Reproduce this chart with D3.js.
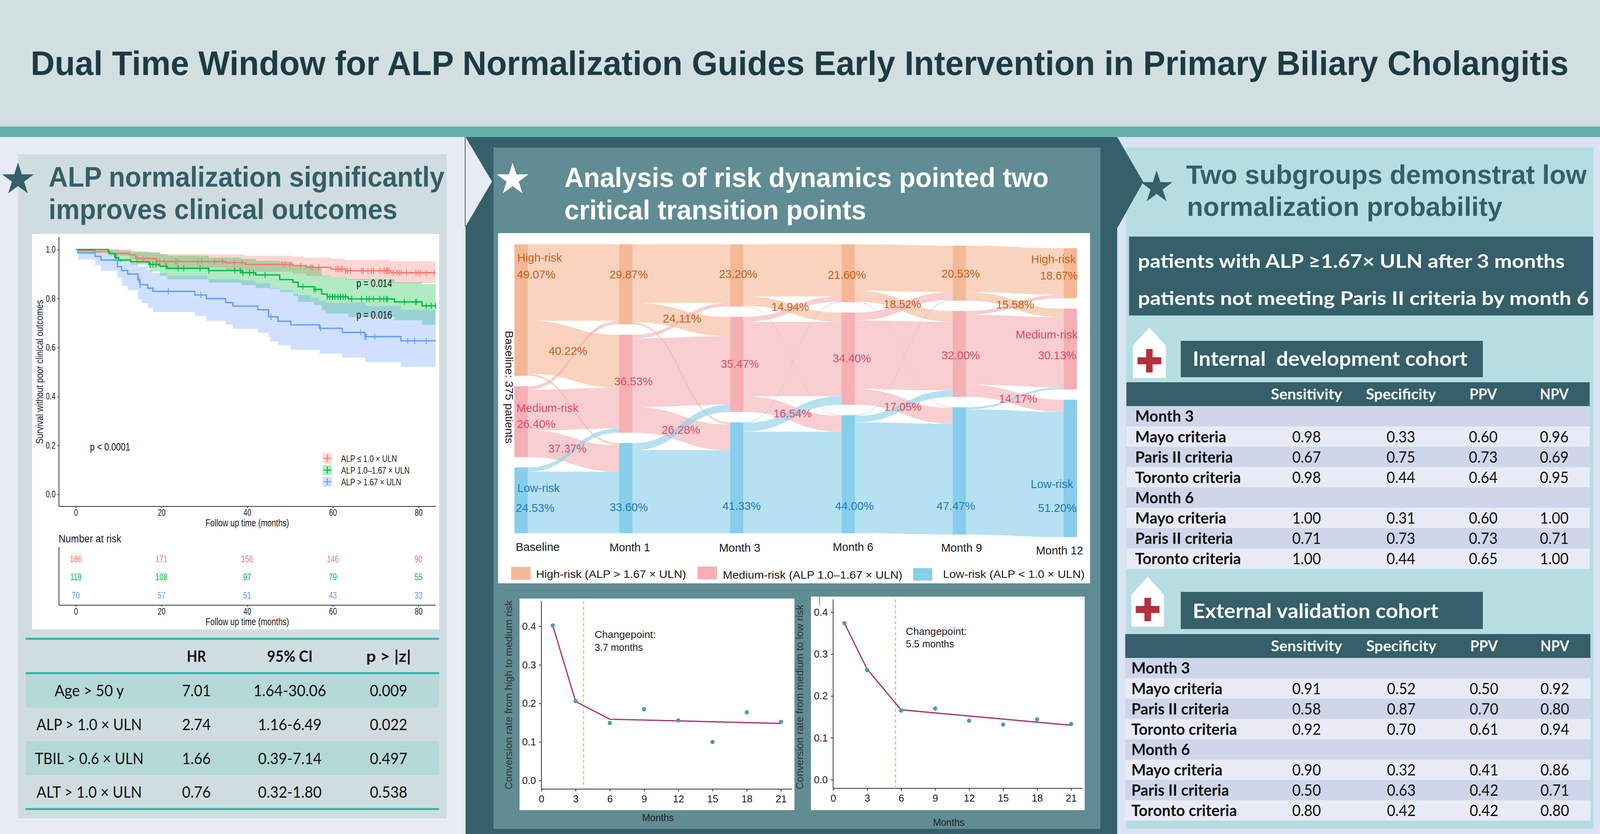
<!DOCTYPE html>
<html><head><meta charset="utf-8">
<script src="https://cdn.jsdelivr.net/npm/d3@7"></script>
<style>html,body{margin:0;padding:0;width:100%;height:100%;overflow:hidden;background:#e6ebf5}svg{display:block;width:100vw;height:100vh}</style>
</head><body><svg id="poster" viewBox="0 0 4179 2136" preserveAspectRatio="none"></svg>
<script>
// ---------- KM data ----------
const kmGroups=['ALP ≤ 1.0 × ULN','ALP 1.0–1.67 × ULN','ALP > 1.67 × ULN'];
const kmLowCurve=[[0,1],[.5,.995],[4.5,.991],[7.6,.984],[12.5,.978],[14,.963],[18.8,.951],[35,.946],[39.6,.939],[50.7,.934],[53.8,.927],[59.6,.920],[63,.913],[73.5,.905]];
const kmLowUpper=[[0,1],[13.1,.996],[13.7,.991],[16.8,.989],[19.6,.982],[30.7,.980],[39.3,.975],[50.4,.971],[53.4,.967],[59.6,.962],[63,.957],[73.5,.952]];
const kmLowLower=[[0,1],[.5,.986],[4.5,.982],[7.6,.975],[12.5,.959],[14,.943],[18.8,.932],[19.6,.926],[35,.916],[39.6,.909],[50.7,.901],[53.8,.891],[59.6,.886],[63,.876],[73.5,.863]];
const kmLowCensor=[14.3,15.7,19,19.6,20.7,23.3,23.7,28.5,29.4,32.4,34.3,37,38.8,48.2,48.8,50,52.5,54.9,55.3,56.7,60.7,61.1,61.4,61.9,62.2,63,63.4,64.1,66.7,67.1,68.2,69,69.5,71,72,72.5,72.8,73.1,74.1,75,75.5,75.9,77.2,79.4,79.9,80.4,81.8,83.6];
const kmMidCurve=[[0,1],[7.6,.991],[7.9,.984],[9.1,.967],[10,.957],[12.8,.950],[17.1,.939],[19.6,.932],[21.4,.923],[31,.914],[38.7,.905],[42,.896],[47.6,.877],[50.7,.866],[51.9,.848],[55.6,.837],[57.4,.818],[58.7,.807],[63.6,.798],[74.4,.786],[80.8,.770]];
const kmMidUpper=[[0,1],[10,.996],[12.8,.991],[17.1,.988],[19.6,.980],[21.4,.975],[31,.967],[38.7,.962],[42,.954],[47.6,.950],[50.7,.935],[55.6,.924],[57.4,.893],[59.6,.887],[63.3,.879],[74.4,.866],[80.8,.858]];
const kmMidLower=[[0,1],[7.6,.988],[9.1,.962],[10,.948],[12.8,.938],[17.1,.911],[19.6,.893],[21.4,.878],[31,.865],[38.7,.854],[42,.842],[45.4,.839],[47.6,.826],[50.7,.810],[51.9,.786],[55.6,.773],[57.4,.752],[58.4,.738],[63.6,.724],[74.4,.711],[80.8,.693]];
const kmMidCensor=[9.4,17.4,18,18.7,21.1,23.9,25.2,29,31.1,37.1,38.4,39,40.6,41.5,44.2,53,55.6,56,58.7,59.3,59.9,60.5,61.2,61.8,62.4,63,64.4,66.7,67.9,68.5,69.5,71,71.9,72.5,72.8,76.7,79.3,79.6,81.8,83,84];
const kmHighCurve=[[0,1],[.5,.986],[4.5,.972],[5.9,.957],[9.7,.930],[10.7,.914],[12.1,.900],[14.5,.877],[15,.856],[16.8,.842],[18,.829],[27.8,.814],[30.5,.799],[35,.783],[36.7,.769],[42.5,.754],[45,.725],[47.2,.707],[50.2,.692],[56.9,.678],[62.2,.661],[67.5,.644],[75.9,.627]];
const kmHighUpper=[[0,1],[4.5,.994],[5.9,.983],[9.7,.962],[10.7,.948],[12.1,.943],[14.5,.930],[16.8,.914],[18,.903],[21.4,.893],[30.7,.879],[38.7,.874],[42,.863],[45.4,.842],[47.6,.834],[50.7,.818],[51.9,.813],[55,.802],[56.8,.791],[58.4,.783],[67.6,.770],[75.9,.754]];
const kmHighLower=[[0,1],[.5,.959],[4.5,.936],[5.9,.913],[9.7,.885],[10.7,.851],[12.1,.834],[14.5,.797],[15.3,.781],[16.8,.762],[18,.745],[27.8,.728],[30.5,.709],[35,.693],[36.7,.676],[42.5,.659],[45,.641],[45.4,.625],[47.2,.608],[50.2,.590],[56.9,.574],[62.2,.559],[67.5,.540],[75.9,.521]];
const kmHighCensor=[14.7,15,21.6,29.2,45.6,57.1,66.5,67.5,67.8,69.8,77.5,79.1,81.8];
const kmTicksX=[0,20,40,60,80];
const kmTicksY=[0,.2,.4,.6,.8,1];
const riskLow=[186,171,156,146,90];
const riskMid=[119,108,97,79,55];
const riskHigh=[70,57,51,43,33];
// ---------- Cox table ----------
const coxHeader=['HR','95% CI','p > |z|'];
const coxNames=['Age > 50 y','ALP > 1.0 × ULN','TBIL > 0.6 × ULN','ALT > 1.0 × ULN'];
const coxHR=['7.01','2.74','1.66','0.76'];
const coxCI=['1.64-30.06','1.16-6.49','0.39-7.14','0.32-1.80'];
const coxP=['0.009','0.022','0.497','0.538'];
// ---------- Sankey (patients) ----------
const sankeyCols=['Baseline','Month 1','Month 3','Month 6','Month 9','Month 12'];
const sankeyLevels=['High','Medium','Low'];
const sankeyFlows=[
 [[107,74,3],[5,57,37],[0,6,86]],
 [[82,27,3],[5,96,36],[0,10,116]],
 [[73,13,1],[7,104,22],[1,12,142]],
 [[65,15,1],[11,96,22],[1,9,155]],
 [[65,12,0],[5,98,17],[0,3,175]]
];
// ---------- Changepoint plots ----------
const cpMonths=[1,3,6,9,12,15,18,21];
const cpTicksX=[0,3,6,9,12,15,18,21];
const cpTicksY=[0,.1,.2,.3,.4];
const cpHighRates=[.402,.206,.149,.185,.156,.100,.177,.152];
const cpHighFitT=[1,3,6,21];
const cpHighFit=[.402,.205,.159,.148];
const cpHighChange=3.7;
const cpMedRates=[.374,.262,.165,.170,.141,.132,.144,.133];
const cpMedFitT=[1,3,6,21];
const cpMedFit=[.374,.264,.167,.130];
const cpMedChange=5.5;
// ---------- Metric tables ----------
const metricHeader=['Sensitivity','Specificity','PPV','NPV'];
const internalRows=[['Month 3'],['Mayo criteria','0.98','0.33','0.60','0.96'],['Paris II criteria','0.67','0.75','0.73','0.69'],['Toronto criteria','0.98','0.44','0.64','0.95'],['Month 6'],['Mayo criteria','1.00','0.31','0.60','1.00'],['Paris II criteria','0.71','0.73','0.73','0.71'],['Toronto criteria','1.00','0.44','0.65','1.00']];
const externalRows=[['Month 3'],['Mayo criteria','0.91','0.52','0.50','0.92'],['Paris II criteria','0.58','0.87','0.70','0.80'],['Toronto criteria','0.92','0.70','0.61','0.94'],['Month 6'],['Mayo criteria','0.90','0.32','0.41','0.86'],['Paris II criteria','0.50','0.63','0.42','0.71'],['Toronto criteria','0.80','0.42','0.42','0.80']];

// ---------- helpers ----------
const svg=d3.select('#poster');
const DARK='#355f69', ARIAL='"Liberation Sans",Arial,sans-serif', LATO='Lato,"Open Sans",sans-serif';
const rect=(x0,y0,x1,y1,fill,p=svg)=>p.append('rect').attr('x',x0).attr('y',y0).attr('width',x1-x0).attr('height',y1-y0).attr('fill',fill);
// text spanning x0..x1, centred vertically on cy (caps) or on a baseline
function tx(s,x0,x1,y,size,fill,o={}){
  const t=(o.p||svg).append('text').text(s).attr('x',x0).attr('y',y).attr('font-size',size).attr('fill',fill)
   .attr('font-family',o.font||ARIAL).attr('font-weight',o.weight||400)
   .attr('textLength',x1-x0).attr('lengthAdjust','spacingAndGlyphs');
  if(!o.base) t.attr('dy','.36em');
  return t;
}
function rot(s,cx,y0,y1,size,fill,dir=-1){
  const len=y1-y0, cy=(y0+y1)/2;
  svg.append('text').text(s).attr('transform',`translate(${cx},${cy}) rotate(${dir*90})`)
   .attr('x',-len/2).attr('dy','.36em').attr('font-size',size).attr('fill',fill).attr('font-family',ARIAL)
   .attr('textLength',len).attr('lengthAdjust','spacingAndGlyphs');
}
const poly=(pts,fill)=>svg.append('polygon').attr('points',pts.map(p=>p.join(',')).join(' ')).attr('fill',fill);
const star=(x,y,r,fill)=>svg.append('path').attr('d',d3.symbol(d3.symbolStar,r*r/0.8908)()).attr('transform',`translate(${x},${y})`).attr('fill',fill);
function squeeze(sel,k){sel.each(function(){const n=this.getComputedTextLength();d3.select(this).attr('textLength',n*k).attr('lengthAdjust','spacingAndGlyphs');});}

// ---------- poster frame ----------
rect(0,0,4179,2136,'#e6ebf5');
rect(2918,351,4179,2136,'#dbe3f5');
rect(0,0,4179,326,'#d2dfe0');
rect(0,324,4179,351,'#66b0aa');
poly([[1216,351],[2918,351],[2986,466],[2918,584],[2918,2136],[1216,2136]],DARK);
poly([[1216,351],[1285,465],[1216,580]],'#e6ebf5');
svg.append('line').attr('x1',1215).attr('x2',1215).attr('y1',351).attr('y2',580).attr('stroke',DARK).attr('stroke-width',2);
rect(47,395,1167,2096,'#d0dde0');
rect(1289,378,2874,2123,'#608c93');
rect(2941,377,4162,2122,'#b6dde2');
poly([[2918,351],[2986,466],[2918,584]],DARK);

tx('Dual Time Window for ALP Normalization Guides Early Intervention in Primary Biliary Cholangitis',80,4097,192,87,'#1d3a45',{weight:700,base:true});
star(47,460,43.7,DARK);
tx('ALP normalization significantly',127,1161,478,72,DARK,{weight:700,base:true});
tx('improves clinical outcomes',127,1038,561,72,DARK,{weight:700,base:true});
star(1339,460,43.7,'#fff');
tx('Analysis of risk dynamics pointed two',1474,2739,479,70,'#fff',{weight:700,base:true});
tx('critical transition points',1474,2262,562,70,'#fff',{weight:700,base:true});
star(3021,480,43.7,DARK);
tx('Two subgroups demonstrat low',3098,4144,471,68,DARK,{weight:700,base:true});
tx('normalization probability',3100,3924,553,68,DARK,{weight:700,base:true});

// ---------- KM plot ----------
rect(84,599,1147,1612,'#fff');
const kmX=d3.scaleLinear([0,80],[198,1093]), kmY=d3.scaleLinear([0,1],[1266,639]);
const kmEnd=84, kmColors=['#F8766D','#00BA38','#619CFF'];
const kmSets=[[kmLowCurve,kmLowUpper,kmLowLower,kmLowCensor],[kmMidCurve,kmMidUpper,kmMidLower,kmMidCensor],[kmHighCurve,kmHighUpper,kmHighLower,kmHighCensor]];
const ext=a=>a.concat([[kmEnd,a[a.length-1][1]]]);
const stepA=d3.line().x(d=>kmX(d[0])).y(d=>kmY(d[1])).curve(d3.curveStepAfter);
const stepB=d3.line().x(d=>kmX(d[0])).y(d=>kmY(d[1])).curve(d3.curveStepBefore);
const sAt=(c,t)=>{let s=1;for(const p of c){if(p[0]<=t)s=p[1];}return s;};
kmSets.forEach((set,i)=>{
  const up=stepA(ext(set[1])), lo=stepB(ext(set[2]).reverse()).replace(/^M/,'L');
  svg.append('path').attr('d',up+lo+'Z').attr('fill',kmColors[i]).attr('fill-opacity',.3);
});
kmSets.forEach((set,i)=>{
  svg.append('path').attr('d',stepA(ext(set[0]))).attr('fill','none').attr('stroke',kmColors[i]).attr('stroke-width',3.4);
  svg.append('g').selectAll('line').data(set[3]).join('line')
   .attr('x1',d=>kmX(d)).attr('x2',d=>kmX(d))
   .attr('y1',d=>kmY(sAt(set[0],d))-8).attr('y2',d=>kmY(sAt(set[0],d))+8)
   .attr('stroke',kmColors[i]).attr('stroke-width',2.2);
});
function styleAxis(g,size,k,color='#333'){
  g.selectAll('.domain').attr('stroke',color).attr('stroke-width',2);
  g.selectAll('.tick line').attr('stroke',color).attr('stroke-width',2);
  g.selectAll('text').attr('font-size',size).attr('font-family',ARIAL).attr('fill','#1a1a1a');
  squeeze(g.selectAll('text'),k);
}
const kmAxisY=svg.append('g').attr('transform','translate(154,0)').call(
  d3.axisLeft(d3.scaleLinear([0,1],[1266,639])).tickValues(kmTicksY).tickFormat(d3.format('.1f')).tickSize(4).tickPadding(5));
kmAxisY.select('.domain').attr('d','M0,1297V607');
styleAxis(kmAxisY,24,.76);
const kmAxisX=g=>g.call(d3.axisBottom(kmX).tickValues(kmTicksX).tickSize(4).tickPadding(3));
const kx1=svg.append('g').attr('transform','translate(0,1297)').call(kmAxisX);
kx1.select('.domain').attr('d','M154,0H1138');
styleAxis(kx1,24,.76);
const kx2=svg.append('g').attr('transform','translate(0,1550)').call(kmAxisX);
kx2.select('.domain').attr('d','M154,0H1138');
styleAxis(kx2,24,.76);
svg.append('line').attr('x1',154).attr('x2',154).attr('y1',1401).attr('y2',1550).attr('stroke','#333').attr('stroke-width',2);
rot('Survival without poor clinical outcomes',103,768,1137,26,'#1a1a1a');
tx('Follow up time (months)',537,755,1339,26,'#1a1a1a');
tx('Follow up time (months)',537,755,1592,26,'#1a1a1a');
tx('Number at risk',153,317,1379,28,'#1a1a1a');
tx('p = 0.014',931,1024,725,28,'#111');
tx('p = 0.016',931,1024,806,28,'#111');
tx('p < 0.0001',235,340,1144,28,'#111');
const legW=[146,179,157], legC=[1174,1204,1234];
kmGroups.forEach((g,i)=>{
  const c=legC[i];
  rect(843,c-13,867,c+13,kmColors[i]).attr('fill-opacity',.3);
  svg.append('path').attr('d',`M845,${c}H865M855,${c-9}V${c+9}`).attr('stroke',kmColors[i]).attr('stroke-width',2.6).attr('fill','none');
  tx(g,891,891+legW[i],c,24,'#222');
});
[riskLow,riskMid,riskHigh].forEach((row,i)=>{
  const cy=[1431,1477.5,1524][i];
  const sel=svg.append('g').selectAll('text').data(row).join('text').text(d=>d)
   .attr('x',(d,j)=>kmX(kmTicksX[j])).attr('y',cy).attr('dy','.36em').attr('text-anchor','middle')
   .attr('font-size',24).attr('font-family',ARIAL).attr('fill',kmColors[i]);
  squeeze(sel,.78);
});

// ---------- Cox table ----------
const coxC=[233,513,757,1015];
[0,2].forEach(i=>rect(67,1726+i*86.3,1147,1726+(i+1)*86.3,'#b5d8d8'));
[1636,1724,2072].forEach(y=>rect(67,y-2.5,1147,y+2.5,'#2fb3a5'));
const coxHW=[50,119,117];
coxHeader.forEach((h,i)=>{const w=coxHW[i],c=coxC[i+1];tx(h,c-w/2,c+w/2,1681,40,'#111',{font:LATO,weight:700});});
const coxNW=[181,275,284,275], coxCW=[190,166,166,166];
coxNames.forEach((n,r)=>{
  const y=1769+r*86.7;
  tx(n,coxC[0]-coxNW[r]/2,coxC[0]+coxNW[r]/2,y,40,'#111',{font:LATO});
  tx(coxHR[r],coxC[1]-37.5,coxC[1]+37.5,y,40,'#111',{font:LATO});
  tx(coxCI[r],coxC[2]-coxCW[r]/2,coxC[2]+coxCW[r]/2,y,40,'#111',{font:LATO});
  tx(coxP[r],coxC[3]-49,coxC[3]+49,y,40,'#111',{font:LATO});
});

// ---------- Sankey ----------
rect(1301,597,2847,1494,'#fff');
const skX=d3.scaleOrdinal(sankeyCols,[1343.5,1617,1907,2198,2488,2778]);
const skW=35, skGap=26.5;
const skOffset=d3.scaleOrdinal(sankeyCols,[0,0,0,0,3.5,10]);
const skH=d3.scaleLinear([0,375],[0,687]);
const skNode=['#f5b896','#f4b0b4','#87ceeb'], skLink=['#f5b896','#f4b0b4','#87ceeb'];
// node sizes from flows
const sum=a=>a.reduce((p,c)=>p+c,0);
const colCounts=sankeyCols.map((c,k)=> k<5 ? sankeyFlows[k].map(sum)
   : [0,1,2].map(t=>sum(sankeyFlows[4].map(r=>r[t]))));
const colTops=colCounts.map((cnt,k)=>{
  let y=625.6+skOffset(sankeyCols[k]); return cnt.map(n=>{const t=y;y+=skH(n)+skGap;return t;});
});
const link=d3.linkHorizontal();
sankeyFlows.forEach((matrix,k)=>{
  const x0=skX(sankeyCols[k])+skW, x1=skX(sankeyCols[k+1]);
  const inY=colTops[k+1].slice();
  const outY=colTops[k].slice();
  const paths=[];
  // incoming slots ordered by source
  for(let s=0;s<3;s++){
    for(let t=0;t<3;t++){
      const h=skH(matrix[s][t]);
      paths.push({s,t,h,y0:outY[s],y1:inY[t]});
      outY[s]+=h; inY[t]+=h;
    }
  }
  svg.append('g').selectAll('path').data(paths.filter(d=>d.h>0)).join('path')
   .attr('d',d=>{
     const a=link({source:[x0,d.y0],target:[x1,d.y1]});
     const b=link({source:[x1,d.y1+d.h],target:[x0,d.y0+d.h]}).replace(/^M/,'L');
     return a+b+'Z';
   }).attr('fill',d=>skLink[d.s]).attr('fill-opacity',.62);
});
colCounts.forEach((cnt,k)=>cnt.forEach((n,l)=>{
  rect(skX(sankeyCols[k]),colTops[k][l],skX(sankeyCols[k])+skW,colTops[k][l]+skH(n),skNode[l]);
}));
const cH='#c8601a', cM='#e04a66', cL='#1f78c0';
[['High-risk',1351,1468,660,cH],['49.07%',1350,1451,703,cH],['29.87%',1592,1692,703,cH],['23.20%',1878,1978,702,cH],['21.60%',2162,2262,704,cH],['20.53%',2459,2559,701,cH],['High-risk',2693,2810,664,cH],['18.67%',2717,2815,706,cH],
 ['40.22%',1433,1534,899,cH],['24.11%',1731,1832,816,cH],['14.94%',2015,2113,786,cH],['18.52%',2308,2406,779,cH],['15.58%',2602,2701,780,cH],
 ['36.53%',1604,1705,977,cM],['35.47%',1883,1982,932,cM],['34.40%',2175,2275,918,cM],['32.00%',2459,2559,910,cM],['30.13%',2711,2811,910,cM],['Medium-risk',2653,2815,857,cM],['Medium-risk',1349,1511,1045,cM],['26.40%',1350,1451,1086,cM],['37.37%',1432,1532,1149,cM],['26.28%',1728,1829,1101,cM],['16.54%',2020,2120,1059,cM],['17.05%',2309,2407,1042,cM],['14.17%',2609,2709,1021,cM],
 ['Low-risk',1351,1462,1250,cL],['24.53%',1347,1448,1301,cL],['33.60%',1592,1692,1299,cL],['41.33%',1887,1987,1296,cL],['44.00%',2181,2282,1296,cL],['47.47%',2446,2547,1296,cL],['51.20%',2711,2812,1301,cL],['Low-risk',2692,2803,1240,cL]
].forEach(d=>tx(d[0],d[1],d[2],d[3],29,d[4]));
[['Baseline',1347,1462,1401],['Month 1',1592,1698,1402],['Month 3',1878,1986,1403],['Month 6',2175,2281,1401],['Month 9',2458,2565,1403],['Month 12',2706,2829,1410]]
 .forEach(d=>tx(d[0],d[1],d[2],d[3],29,'#1a1a1a'));
rot('Baseline: 375 patients',1331,847,1136,29,'#1a1a1a',1);
rect(1335,1452,1386,1485,skNode[0]); tx('High-risk (ALP > 1.67 × ULN)',1400,1792,1470,28,'#1a1a1a');
rect(1822,1451,1873,1484,skNode[1]); tx('Medium-risk (ALP 1.0–1.67 × ULN)',1888,2357,1472,28,'#1a1a1a');
rect(2385,1455,2435,1487,skNode[2]); tx('Low-risk (ALP < 1.0 × ULN)',2463,2833,1470,28,'#1a1a1a');

// ---------- changepoint plots ----------
function cpPlot(o){
  rect(o.card[0],o.card[1],o.card[2],o.card[3],'#fff');
  const x=d3.scaleLinear([0,22],[o.x0,o.x0+22*o.perMonth]), y=d3.scaleLinear([0,.4],[o.y0,o.y4]);
  const ay=svg.append('g').attr('transform',`translate(${o.x0},0)`).call(d3.axisLeft(y).tickValues(cpTicksY).tickFormat(d3.format('.1f')).tickSize(6).tickPadding(8));
  ay.select('.domain').attr('d',`M0,${o.axisY}V${o.top}`);
  styleAxis(ay,26,1);
  const ax=svg.append('g').attr('transform',`translate(0,${o.axisY})`).call(d3.axisBottom(x).tickValues(cpTicksX).tickSize(6).tickPadding(10));
  ax.select('.domain').attr('d',`M${o.x0},0H${o.right}`);
  styleAxis(ax,26,1);
  svg.append('line').attr('x1',x(o.change)).attr('x2',x(o.change)).attr('y1',o.top).attr('y2',o.axisY)
   .attr('stroke','#f4b860').attr('stroke-width',3).attr('stroke-dasharray','8 6');
  svg.append('path').datum(d3.zip(o.fitT,o.fit)).attr('d',d3.line().x(d=>x(d[0])).y(d=>y(d[1])))
   .attr('fill','none').attr('stroke','#a8336e').attr('stroke-width',3.2);
  svg.append('g').selectAll('circle').data(d3.zip(cpMonths,o.rates)).join('circle')
   .attr('cx',d=>x(d[0])).attr('cy',d=>y(d[1])).attr('r',5.5).attr('fill','#4a9aba');
  tx('Changepoint:',o.cpt[0],o.cpt[1],o.cpt[4],26,'#222');
  tx(o.label,o.cpt[0],o.cpt[2],o.cpt[5],26,'#222');
  rot(o.title,o.tx,o.ty[0],o.ty[1],27,'#333');
  tx('Months',o.mo[0],o.mo[1],o.mo[2],26,'#222');
}
cpPlot({card:[1357,1533,2075,2075],x0:1414,perMonth:29.8,y0:1999,y4:1604,top:1540,axisY:2021,right:2069,change:cpHighChange,fitT:cpHighFitT,fit:cpHighFit,rates:cpHighRates,
 cpt:[1553,1713,1679,0,1625,1658],label:'3.7 months',title:'Conversion rate from high to medium risk',tx:1328,ty:[1538,2022],mo:[1677,1760,2094]});
cpPlot({card:[2118,1528,2833,2075],x0:2176,perMonth:29.6,y0:1997,y4:1568,top:1535,axisY:2019,right:2827,change:cpMedChange,fitT:cpMedFitT,fit:cpMedFit,rates:cpMedRates,
 cpt:[2366,2525,2492,0,1617,1649],label:'5.5 months',title:'Conversion rate from medium to low risk',tx:2088,ty:[1549,2022],mo:[2437,2519,2106]});
svg.append('line').attr('x1',2141).attr('x2',2141).attr('y1',1528).attr('y2',1551).attr('stroke','#608c93').attr('stroke-width',2);

// ---------- right column ----------
rect(2949,606,4161,808,DARK);
tx('patients with ALP ≥1.67× ULN after 3 months',2972,4087,686,48,'#fff',{font:LATO,weight:700,base:true});
tx('patients not meeting Paris II criteria by month 6',2972,4150,781,48,'#fff',{font:LATO,weight:700,base:true});
function house(x0,x1,top,shoulder,bottom,cross){
  poly([[(x0+x1)/2,top],[x1,shoulder],[x1,bottom],[x0,bottom],[x0,shoulder]],'#fff');
  const cx=(x0+x1)/2;
  rect(cx-8.5,cross-30,cx+8.5,cross+30,'#b5303c');
  rect(cx-31,cross-9,cx+31,cross+9,'#b5303c');
}
house(2959,3045,839,885,968,924);
rect(3084,873,3873,966,DARK);
tx('Internal  development cohort',3115,3833,937,52,'#fff',{font:LATO,weight:700,base:true}).attr('xml:space','preserve');
house(2955,3040,1477,1523,1605,1561);
rect(3084,1516,3873,1611,DARK);
tx('External validation cohort',3115,3757,1583,52,'#fff',{font:LATO,weight:700,base:true});

function metricTable(rows,o){
  rect(o.x0,o.headTop,o.x1,o.headBot,DARK);
  const rh=d3.scaleBand(d3.range(rows.length),[o.headBot,o.headBot+rows.length*52.1]);
  const hw=[186,183,72,75];
  metricHeader.forEach((h,i)=>tx(h,o.cols[i]-hw[i]/2,o.cols[i]+hw[i]/2,(o.headTop+o.headBot)/2,38,'#fff',{font:LATO,weight:700}));
  const nw={'Mayo criteria':238,'Paris II criteria':255,'Toronto criteria':276,'Month 3':153,'Month 6':153};
  rows.forEach((r,i)=>{
    rect(o.x0,rh(i),o.x1,rh(i)+rh.bandwidth(),i%2?'#e8ebf6':'#cfd6ea');
    const cy=rh(i)+rh.bandwidth()/2;
    tx(r[0],o.nameX,o.nameX+nw[r[0]],cy,40,'#111',{font:LATO,weight:700});
    r.slice(1).forEach((v,j)=>tx(v,o.cols[j]-37.5,o.cols[j]+37.5,cy,40,'#111',{font:LATO}));
  });
}
metricTable(internalRows,{x0:2942,x1:4152,headTop:979,headBot:1040,nameX:2965,cols:[3412.5,3659,3874,4059.5]});
metricTable(externalRows,{x0:2939,x1:4154,headTop:1624,headBot:1685,nameX:2955,cols:[3412.5,3660,3876,4061]});
</script></body></html>
